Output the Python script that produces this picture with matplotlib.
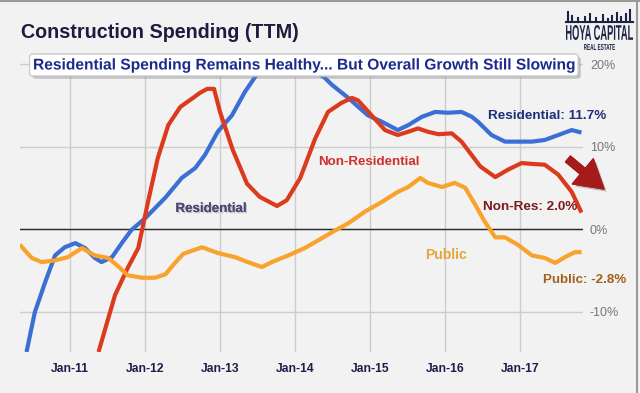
import matplotlib
matplotlib.use('Agg')
import matplotlib.pyplot as plt
import matplotlib.patheffects as pe
from matplotlib.textpath import TextPath
from matplotlib.patches import PathPatch, FancyArrowPatch
from matplotlib.font_manager import FontProperties
from matplotlib.transforms import Affine2D
from matplotlib.lines import Line2D

plt.rcParams['font.family'] = ['Liberation Sans', 'DejaVu Sans']

# TTM growth (%), time as fractional year
res_t = [2010.42, 2010.53, 2010.67, 2010.80, 2010.93, 2011.07, 2011.20, 2011.33, 2011.42, 2011.56,
         2011.69, 2011.82, 2012.00, 2012.27, 2012.49, 2012.67, 2012.80, 2012.97, 2013.16, 2013.33,
         2013.51, 2013.67, 2013.87, 2014.07, 2014.22, 2014.40, 2014.49, 2014.71, 2014.97, 2015.16,
         2015.37, 2015.51, 2015.69, 2015.87, 2016.04, 2016.22, 2016.36, 2016.44, 2016.62, 2016.80,
         2016.97, 2017.16, 2017.33, 2017.51, 2017.69, 2017.82]
res_v = [-14.9, -10.1, -6.4, -3.2, -2.2, -1.7, -2.3, -3.5, -4.0, -3.4,
         -1.7, -0.1, 1.3, 3.8, 6.2, 7.4, 9.0, 11.8, 13.8, 16.6,
         19.0, 20.2, 20.7, 20.5, 19.5, 18.3, 17.5, 15.9, 13.8, 13.0,
         12.0, 12.6, 13.6, 14.2, 14.1, 14.2, 13.6, 13.0, 11.4, 10.6,
         10.6, 10.6, 10.8, 11.4, 12.0, 11.7]

nonres_t = [2011.38, 2011.60, 2011.77, 2011.91, 2012.04, 2012.17, 2012.31, 2012.47, 2012.64, 2012.73,
            2012.83, 2012.92, 2013.00, 2013.17, 2013.36, 2013.53, 2013.76, 2013.89, 2014.07, 2014.27,
            2014.44, 2014.62, 2014.76, 2014.84, 2015.02, 2015.20, 2015.37, 2015.51, 2015.64, 2015.77,
            2015.91, 2016.09, 2016.22, 2016.47, 2016.67, 2016.84, 2017.02, 2017.16, 2017.33, 2017.51,
            2017.69, 2017.82]
nonres_v = [-14.9, -8.0, -4.7, -2.3, 3.3, 8.6, 12.6, 14.8, 15.9, 16.5,
            17.0, 17.0, 14.2, 9.6, 5.5, 3.9, 2.8, 3.5, 6.2, 11.0,
            14.2, 15.3, 15.9, 15.6, 13.8, 12.0, 11.4, 11.8, 12.2, 11.8,
            11.5, 11.6, 10.6, 7.6, 6.3, 7.2, 8.0, 7.9, 7.8, 6.6,
            4.5, 2.0]

pub_t = [2010.33, 2010.49, 2010.62, 2010.80, 2010.97, 2011.16, 2011.33, 2011.51, 2011.64, 2011.77,
         2011.96, 2012.13, 2012.27, 2012.40, 2012.51, 2012.76, 2012.97, 2013.20, 2013.37, 2013.56,
         2013.69, 2013.91, 2014.13, 2014.36, 2014.49, 2014.71, 2014.93, 2015.16, 2015.37, 2015.51,
         2015.67, 2015.77, 2015.96, 2016.13, 2016.27, 2016.40, 2016.53, 2016.67, 2016.80, 2016.97,
         2017.16, 2017.33, 2017.47, 2017.60, 2017.73, 2017.82]
pub_v = [-1.9, -3.5, -4.0, -3.8, -3.4, -2.3, -3.2, -3.5, -4.5, -5.6,
         -5.9, -5.9, -5.5, -4.1, -3.0, -2.2, -2.9, -3.4, -4.0, -4.6,
         -4.0, -3.2, -2.3, -1.1, -0.4, 0.7, 2.1, 3.3, 4.5, 5.1,
         6.2, 5.6, 5.1, 5.6, 5.0, 3.0, 0.9, -1.0, -1.0, -1.9,
         -3.2, -3.5, -4.1, -3.4, -2.8, -2.8]

years = [2011, 2012, 2013, 2014, 2015, 2016, 2017]
year_labels = ['Jan-11', 'Jan-12', 'Jan-13', 'Jan-14', 'Jan-15', 'Jan-16', 'Jan-17']
yticks = [-10, 0, 10, 20]
ytick_labels = ['-10%', '0%', '10%', '20%']

W, H = 640, 393
bg = '#f2f2f2'


def px(x, y):
    return x / W, 1 - y / H


fig = plt.figure(figsize=(W / 100, H / 100), dpi=100, facecolor=bg)
ax = fig.add_axes([20 / W, 1 - 352 / H, 563 / W, 297 / H])
ax.set_facecolor(bg)

ax.plot(res_t, res_v, color='#3b6fd6', lw=3, zorder=3, solid_capstyle='butt')
ax.plot(nonres_t, nonres_v, color='#dc3a1d', lw=3, zorder=4, solid_capstyle='butt')
ax.plot(pub_t, pub_v, color='#f9a22c', lw=3, zorder=5, solid_capstyle='butt')
ax.axhline(0, color='#2a2a2a', lw=1, zorder=2)

ax.set_xlim(2010.333, 2017.84)
ax.set_ylim(-14.9, 21.1)
ax.set_xticks(years)
ax.set_xticklabels(year_labels, fontweight='bold')
ax.yaxis.tick_right()
ax.set_yticks(yticks)
ax.set_yticklabels(ytick_labels)
ax.tick_params(axis='x', length=0, pad=8, labelsize=8.7, labelcolor='#1e1e4a')
ax.tick_params(axis='y', length=0, pad=5, labelsize=9, labelcolor='#777777')
ax.grid(True, color='#cdcdcd', lw=1)
ax.set_axisbelow(True)
for s in ax.spines.values():
    s.set_visible(False)

# title and subtitle banner
fig.text(*px(21, 33), 'Construction Spending (TTM)', fontsize=14.2, fontweight='bold',
         color='#1c1c3e', va='center', ha='left')
sub = 'Residential Spending Remains Healthy... But Overall Growth Still Slowing'
st = fig.text(*px(33, 65), sub, fontsize=11.2, fontweight='bold', color='#1c2a8c', va='center', ha='left',
              bbox=dict(boxstyle='round,pad=0.22', fc='white', ec='#c8c8c8', lw=0.8),
              path_effects=[pe.withStroke(linewidth=2, foreground='white')])
st.get_bbox_patch().set_path_effects(
    [pe.withSimplePatchShadow(offset=(2, -2), shadow_rgbFace='#888888', alpha=0.45), pe.Normal()])

shadow = [pe.withSimplePatchShadow(offset=(1, -1), shadow_rgbFace='#888888', alpha=0.4), pe.Normal()]
fig.text(*px(211, 209), 'Residential', fontsize=9.6, fontweight='bold', color='#4a4a78',
         ha='center', va='center', path_effects=shadow)
fig.text(*px(369, 162), 'Non-Residential', fontsize=9.6, fontweight='bold', color='#d0302a',
         ha='center', va='center')
fig.text(*px(446, 255), 'Public', fontsize=10, fontweight='bold', color='#e6a33c',
         ha='center', va='center')
fig.text(*px(547, 116), 'Residential: 11.7%', fontsize=9.7, fontweight='bold', color='#1f2d7a',
         ha='center', va='center')
fig.text(*px(530, 207), 'Non-Res: 2.0%', fontsize=9.7, fontweight='bold', color='#7a1a1a',
         ha='center', va='center')
fig.text(*px(585, 280), 'Public: -2.8%', fontsize=9.6, fontweight='bold', color='#a0601c',
         ha='center', va='center')

# red arrow
arr = fig.add_artist(FancyArrowPatch(
    px(568, 159), px(604, 189), transform=fig.transFigure,
    arrowstyle='simple,head_length=1.1,head_width=1.3,tail_width=0.3',
    mutation_scale=18, color='#a51b1b', shrinkA=0, shrinkB=0))
arr.set_path_effects([pe.withSimplePatchShadow(offset=(2, -2), shadow_rgbFace='#777777', alpha=0.4),
                      pe.Normal()])

# logo
navy = '#1c2344'
fp = FontProperties(family='Liberation Sans', weight='bold')


def stretched(text, x0, y0, x1, y1):
    tp = TextPath((0, 0), text, size=10, prop=fp)
    ext = tp.get_extents()
    sx = (x1 - x0) / ext.width
    sy = (y1 - y0) / ext.height
    tr = Affine2D().translate(-ext.x0, -ext.y0).scale(sx, sy).translate(x0, H - y1)
    fig.add_artist(PathPatch(tr.transform_path(tp), fc=navy, ec='none', transform=None))


stretched('HOYA CAPITAL', 566, 25, 633, 40)
stretched('REAL ESTATE', 584, 44, 615, 50)
skyline_x = [568, 572, 578, 585, 590, 596, 603, 608, 612, 617, 621, 626, 630]
skyline_h = [10, 6, 4, 5, 8, 4, 7, 3, 6, 9, 5, 8, 12]
fig.add_artist(Line2D([566, 633], [H - 22, H - 22], color=navy, lw=1.5, transform=None))
for sx_, sh_ in zip(skyline_x, skyline_h):
    fig.add_artist(Line2D([sx_, sx_], [H - 22, H - 22 + sh_], color=navy, lw=1.5, transform=None))

# frame
fig.add_artist(Line2D([0, 1], [0.997, 0.997], color='#9a9a9a', lw=1.5, transform=fig.transFigure))
fig.add_artist(Line2D([637 / W, 637 / W], [0, 1], color='#9a9a9a', lw=1.5, transform=fig.transFigure))

fig.savefig('out.png', dpi=100, facecolor=bg)
